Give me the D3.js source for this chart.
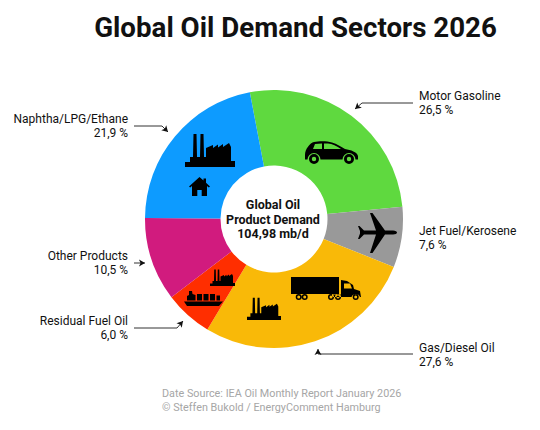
<!DOCTYPE html>
<html>
<head>
<meta charset="utf-8">
<script src="https://cdnjs.cloudflare.com/ajax/libs/d3/7.8.4/d3.min.js"></script>
<style>
  html, body { margin: 0; padding: 0; background: #fff; }
  text { font-family: Roboto, sans-serif; }
</style>
</head>
<body>
<div id="chart"></div>
<script>
const sectors = ['Motor Gasoline', 'Jet Fuel/Kerosene', 'Gas/Diesel Oil', 'Residual Fuel Oil', 'Other Products', 'Naphtha/LPG/Ethane'];
const shares = [26.5, 7.6, 27.6, 6.0, 10.5, 21.9];
const shareLabels = ['26,5 %', '7,6 %', '27,6 %', '6,0 %', '10,5 %', '21,9 %'];
const colors = ['#5fd93f', '#999999', '#f9b908', '#ff2e00', '#d11b7e', '#0d9bff'];
const centerLines = ['Global Oil', 'Product Demand', '104,98 mb/d'];
const footer = ['Date Source: IEA Oil Monthly Report January 2026', '\u00a9 Steffen Bukold / EnergyComment Hamburg'];

const width = 540, height = 430;
const cx = 274, cy = 219, outer = 129, inner = 53.5;

// label x, anchor, first baseline for each sector
const labelPos = [
  [419, 'start', 100],
  [419, 'start', 234.5],
  [419, 'start', 352],
  [128, 'end', 325],
  [128, 'end', 260],
  [128, 'end', 123]
];

// leader lines, last point is the arrow tip
const leaders = [
  [[413, 103], [362, 103], [355, 109]],
  null,
  [[413, 354], [318, 354], [318, 349]],
  [[134, 328], [177, 328], [183, 321]],
  [[134, 263], [145, 263]],
  [[134, 126], [162, 126], [168, 132]]
];

const ring = (x, y, r, h) =>
  `M${x - r} ${y}a${r} ${r} 0 1 0 ${2 * r} 0a${r} ${r} 0 1 0 ${-2 * r} 0Z` +
  `M${x - h} ${y}a${h} ${h} 0 1 0 ${2 * h} 0a${h} ${h} 0 1 0 ${-2 * h} 0Z`;

// icon outlines in their own little boxes
const glyphs = {
  factory: 'M0 34V29H5V24H8L8.5 1H11.5L12 24H15L15.5 1H18.5L19 24H21V15L28 12V15L33 11.5V14.5L38 11V14L44 10L46 14V28H50V34Z',
  house: 'M10.5 0L14.5 3.6V1.5H17V5.8L21 9.4L19.8 10.6L18 9V19H12.7V13H8.3V19H3V9L1.2 10.6L0 9.4Z',
  car: 'M0 14C0 8 5 2 9 1C14 -.2 22 -.2 27 1.5C32 3 36 5.5 40 8C46 9 52 11 53 15V18.5H50.5A6.5 6.5 0 0 0 37.5 18.5H15.5A6.5 6.5 0 0 0 2.5 18.5H0Z' +
    'M10 3L8 8H17V2.6ZM19 2.4V8H36C32 5 27 2.4 23 2.4Z' + ring(9, 18, 5, 2.2) + ring(44, 18, 5, 2.2),
  plane: 'M19 17.5L13 0H15.5L28 17.500H36C38.500 17.500 40 18.500 40 19.500C40 20.500 38.500 21.500 36 21.500H28L15.500 40H13L19 21.500H7L2.500 26H1L3 20.500V18L1 13H2.500L7 17.500Z',
  truck: 'M0 0H48V17H0ZM41 17.500H50V20H41Z' +
    'M50 3L56 4L62 8L63 12L69 14L70 20H69A4.500 4.500 0 0 0 60.500 20H50ZM53 6.500V11.500H61L59 6.500Z' +
    ring(7.7, 20, 3, 1.5) + ring(13.7, 20, 3, 1.5) + ring(40, 20, 3, 1.5) + ring(47, 20, 3, 1.5) + ring(64.7, 20, 3, 1.5),
  ship: 'M3 10.500V6L5 5V1H8L8.500 4L11.500 5V10.500Z' +
    'M13 4H18V10.500H13ZM19.500 4H24.500V10.500H19.500ZM26 4H31V10.500H26ZM32.500 5.500H36V10.500H32.500Z' +
    'M0 11.500H39L35 16H3Z'
};

// glyph name, x, y, scale
const icons = [
  ['factory', 185, 133, 1],
  ['house', 189, 177, 1],
  ['car', 305, 141, 1],
  ['plane', 357, 213, 1],
  ['truck', 291, 277, 1],
  ['factory', 247, 297, 0.68],
  ['factory', 210, 269, 0.5],
  ['ship', 184, 290, 1]
];

const svg = d3.select('#chart').append('svg')
  .attr('width', width)
  .attr('height', height)
  .style('display', 'block');

svg.append('text')
  .attr('x', 295.5).attr('y', 37)
  .attr('text-anchor', 'middle')
  .attr('font-size', 27.7)
  .attr('font-weight', 700)
  .attr('fill', '#111')
  .text('Global Oil Demand Sectors 2026');

const start = -10.8 * Math.PI / 180;
const pie = d3.pie().sort(null).startAngle(start).endAngle(start + 2 * Math.PI);
const arc = d3.arc().innerRadius(inner).outerRadius(outer);

svg.append('g')
  .attr('transform', `translate(${cx},${cy})`)
  .selectAll('path')
  .data(pie(shares))
  .join('path')
  .attr('fill', (d, i) => colors[i])
  .attr('d', arc);

svg.append('g')
  .selectAll('path')
  .data(icons)
  .join('path')
  .attr('transform', d => `translate(${d[1]},${d[2]}) scale(${d[3]})`)
  .attr('d', d => glyphs[d[0]])
  .attr('fill', '#000')
  .attr('fill-rule', 'evenodd');

svg.append('g')
  .attr('text-anchor', 'middle')
  .attr('font-size', 12.5)
  .attr('font-weight', 700)
  .attr('fill', '#111')
  .selectAll('text')
  .data(centerLines)
  .join('text')
  .attr('x', cx - 1)
  .attr('y', (d, i) => 209 + i * 14.5)
  .text(d => d);

const labels = svg.append('g')
  .attr('font-size', 12)
  .attr('fill', '#111')
  .selectAll('text')
  .data(sectors)
  .join('text')
  .attr('text-anchor', (d, i) => labelPos[i][1]);

labels.append('tspan')
  .attr('x', (d, i) => labelPos[i][0])
  .attr('y', (d, i) => labelPos[i][2])
  .text(d => d);

labels.append('tspan')
  .attr('x', (d, i) => labelPos[i][0])
  .attr('y', (d, i) => labelPos[i][2] + 14)
  .text((d, i) => shareLabels[i]);

const line = d3.line();
const leaderGroup = svg.append('g');

leaders.forEach(pts => {
  if (!pts) return;
  leaderGroup.append('path')
    .attr('d', line(pts))
    .attr('fill', 'none')
    .attr('stroke', '#333')
    .attr('stroke-width', 1);
  const tip = pts[pts.length - 1], prev = pts[pts.length - 2];
  const a = Math.atan2(tip[1] - prev[1], tip[0] - prev[0]) * 180 / Math.PI;
  leaderGroup.append('path')
    .attr('transform', `translate(${tip[0]},${tip[1]}) rotate(${a})`)
    .attr('d', 'M0 0L-6 -3.500L-4.500 0L-6 3.500Z')
    .attr('fill', '#111');
});

svg.append('g')
  .attr('font-size', 10.8)
  .attr('fill', '#a6a6a6')
  .selectAll('text')
  .data(footer)
  .join('text')
  .attr('x', 162)
  .attr('y', (d, i) => 397 + i * 14)
  .text(d => d);
</script>
</body>
</html>
